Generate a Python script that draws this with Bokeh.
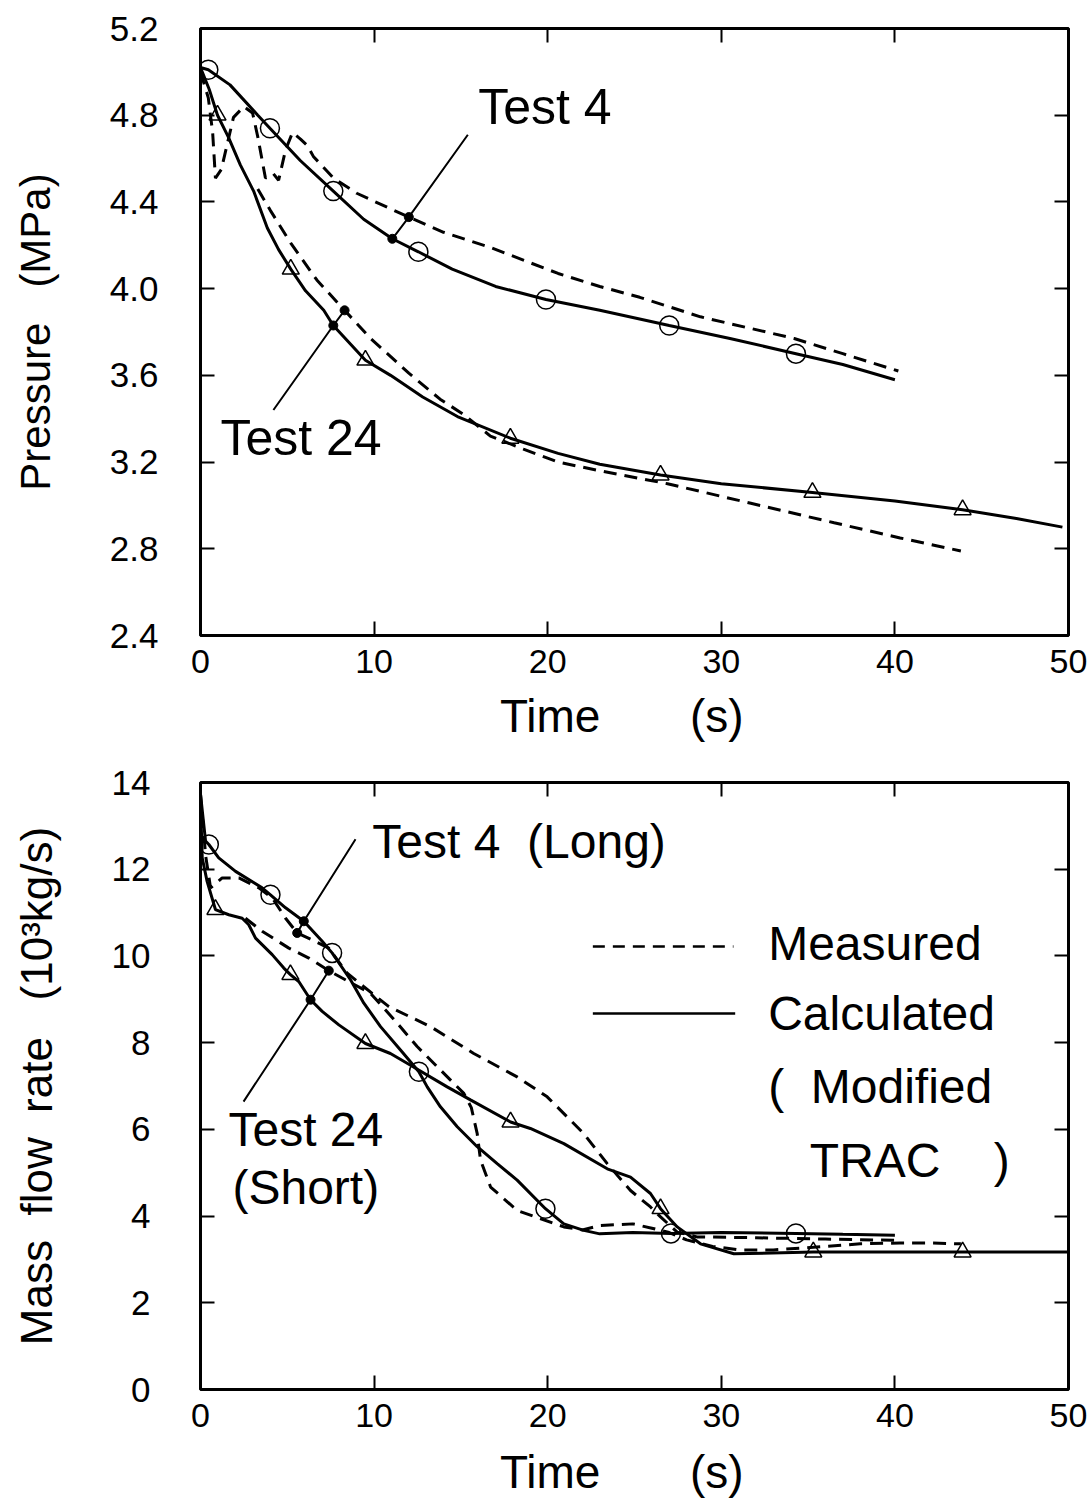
from bokeh.plotting import figure
from bokeh.models import Range1d, FixedTicker, LinearAxis
from bokeh.layouts import column
from bokeh.embed import file_html
from bokeh.resources import INLINE
from bokeh.core.properties import value

# ---------------- data: pressure (top) ----------------
X_TICKS = [0, 10, 20, 30, 40, 50]
P_TICKS = [2.4, 2.8, 3.2, 3.6, 4.0, 4.4, 4.8, 5.2]
P_TICK_LABELS = ["2.4", "2.8", "3.2", "3.6", "4.0", "4.4", "4.8", "5.2"]
M_TICKS = [0, 2, 4, 6, 8, 10, 12, 14]
M_TICK_LABELS = ["0", "2", "4", "6", "8", "10", "12", "14"]

# Test 4 calculated pressure (solid, circles)
P4C_T = [0, 0.45, 1.7, 3.3, 4.0, 5.76, 7.65, 9.4, 11.05, 12.55, 14.5, 17.0, 19.9, 23.0, 27.0, 30.5, 34.3, 37.0, 40.0]
P4C_P = [5.02, 5.01, 4.94, 4.80, 4.74, 4.59, 4.45, 4.32, 4.23, 4.17, 4.09, 4.01, 3.95, 3.90, 3.83, 3.77, 3.70, 3.65, 3.58]
P4C_MK_T = [0.45, 4.0, 7.65, 12.55, 19.9, 27.0, 34.3]
P4C_MK_P = [5.01, 4.74, 4.45, 4.17, 3.95, 3.83, 3.70]

# Test 4 measured pressure (dashed)
P4M_T = [0, 0.45, 0.7, 0.86, 1.2, 1.55, 1.9, 2.5, 3.0, 3.3, 3.74, 4.2, 4.5, 4.9, 5.3, 5.76, 6.16, 6.5, 7.66, 9.0,
         10.9, 12.0, 14.0, 16.7, 20.6, 23.0, 25.3, 28.8, 34.2, 37.0, 40.2]
P4M_P = [5.0, 4.88, 4.72, 4.51, 4.55, 4.67, 4.79, 4.84, 4.81, 4.70, 4.51, 4.53, 4.50, 4.64, 4.72, 4.69, 4.66, 4.61, 4.51, 4.44,
         4.37, 4.33, 4.26, 4.19, 4.07, 4.01, 3.96, 3.87, 3.77, 3.70, 3.62]

# Test 24 calculated pressure (solid, triangles)
P24C_T = [0, 0.5, 0.98, 1.6, 2.3, 3.06, 3.85, 4.5, 5.2, 6.05, 7.1, 7.65, 9.5, 10.95, 12.8, 14.8, 17.85, 20.6, 23.0, 26.5,
          30.0, 35.25, 40.0, 43.9, 47.0, 49.65]
P24C_P = [5.02, 4.92, 4.80, 4.70, 4.57, 4.45, 4.28, 4.18, 4.09, 3.99, 3.90, 3.83, 3.67, 3.60, 3.50, 3.41, 3.31, 3.24, 3.19, 3.14,
          3.10, 3.06, 3.02, 2.98, 2.94, 2.90]
P24C_MK_T = [0.98, 5.2, 9.5, 17.85, 26.5, 35.25, 43.9]
P24C_MK_P = [4.80, 4.09, 3.67, 3.31, 3.14, 3.06, 2.98]

# Test 24 measured pressure (dashed)
P24M_T = [3.3, 4.03, 5.2, 6.7, 8.3, 9.8, 12.0, 13.8, 15.15, 16.7, 18.6, 20.6, 23.0, 26.9, 31.7, 36.5, 40.3, 43.8]
P24M_P = [4.46, 4.36, 4.21, 4.04, 3.90, 3.77, 3.61, 3.49, 3.42, 3.32, 3.26, 3.20, 3.16, 3.10, 3.01, 2.92, 2.85, 2.79]

# ---------------- data: mass flow rate (bottom) ----------------
M4C_T = [0, 0.29, 0.48, 1.05, 2.02, 3.55, 4.03, 4.9, 5.95, 7.01, 7.58, 8.64, 9.41, 10.37, 11.52, 12.58, 13.06, 13.82,
         14.79, 15.94, 17.09, 18.24, 19.87, 20.93, 22.08, 23.0, 24.9, 27.1, 30.0, 34.3, 37.0, 40.0]
M4C_M = [13.73, 12.65, 12.57, 12.26, 11.95, 11.57, 11.41, 11.11, 10.80, 10.34, 10.07, 9.45, 8.91, 8.37, 7.83, 7.33, 6.98, 6.52,
         6.06, 5.60, 5.21, 4.83, 4.17, 3.82, 3.67, 3.59, 3.62, 3.60, 3.62, 3.60, 3.58, 3.56]
M4C_MK_T = [0.48, 4.03, 7.58, 12.58, 19.87, 27.1, 34.3]
M4C_MK_M = [12.57, 11.41, 10.07, 7.33, 4.17, 3.60, 3.60]

M4M_T = [0, 0.3, 0.58, 1.25, 2.21, 3.36, 4.13, 4.9, 5.57, 6.43, 7.39, 8.45, 9.41, 10.85, 13.25, 15.74, 18.24, 19.97,
         22.08, 23.43, 24.77, 25.92, 26.5, 27.46, 28.6, 32.0, 36.0, 40.0]
M4M_M = [13.73, 12.3, 11.57, 11.80, 11.80, 11.57, 11.34, 10.87, 10.53, 10.37, 10.18, 9.60, 9.29, 8.83, 8.37, 7.75, 7.21, 6.75,
         5.90, 5.21, 4.59, 4.21, 3.98, 3.63, 3.52, 3.50, 3.47, 3.44]

M24C_T = [0, 0.1, 0.38, 0.86, 1.63, 2.4, 2.78, 3.17, 4.13, 4.8, 5.18, 5.66, 6.34, 7.01, 7.97, 9.5, 10.94, 12.1, 14.21,
          15.55, 17.86, 19.0, 20.93, 23.43, 24.77, 25.92, 26.5, 27.46, 28.8, 30.72, 35.3, 43.9, 50.0]
M24C_M = [13.57, 12.26, 11.72, 11.07, 10.95, 10.87, 10.72, 10.41, 10.03, 9.72, 9.57, 9.41, 8.99, 8.72, 8.41, 7.98, 7.75, 7.48, 6.98,
          6.68, 6.17, 6.02, 5.67, 5.09, 4.90, 4.52, 4.17, 3.75, 3.36, 3.13, 3.17, 3.17, 3.17]
M24C_MK_T = [0.86, 5.18, 9.5, 17.86, 26.5, 35.3, 43.9]
M24C_MK_M = [11.07, 9.57, 7.98, 6.17, 4.17, 3.17, 3.17]

M24M_T = [2.59, 3.55, 5.09, 6.24, 7.39, 8.16, 9.79, 11.33, 12.48, 13.82, 15.17, 15.6, 15.94, 16.13, 16.71, 18.24, 20.93,
          22.0, 23.0, 24.9, 26.0, 27.0, 28.0, 29.5, 31.0, 33.0, 35.3, 38.0, 40.3, 42.0, 43.8]
M24M_M = [10.87, 10.57, 10.18, 9.95, 9.66, 9.49, 9.14, 8.45, 7.91, 7.37, 6.83, 6.5, 5.90, 5.29, 4.67, 4.13, 3.75,
          3.68, 3.78, 3.82, 3.72, 3.62, 3.45, 3.30, 3.22, 3.22, 3.28, 3.36, 3.38, 3.38, 3.36]

FONT = "Liberation Sans"
NB = "\u00a0"
DASH = "13 8"


def make_fig(height, top, bottom, yr, yticks, ylabels, ylabel, xlabel_standoff, ylabel_standoff,
             ytick_standoff, ylabel_size):
    p = figure(width=1089, height=height, x_range=Range1d(0, 50), y_range=Range1d(*yr),
               output_backend="svg", toolbar_location=None,
               min_border_left=200, min_border_right=21, min_border_top=top, min_border_bottom=bottom)
    p.grid.visible = False
    p.outline_line_color = "black"
    p.outline_line_width = 3
    p.background_fill_color = "white"
    p.border_fill_color = "white"

    xa = p.xaxis[0]
    xa.ticker = FixedTicker(ticks=X_TICKS)
    xa.major_label_text_font = FONT
    xa.major_label_text_font_size = "34px"
    xa.major_label_standoff = 14
    xa.axis_label = "Time" + NB * 7 + "(s)" + NB * 2
    xa.axis_label_text_font = FONT
    xa.axis_label_text_font_size = "46px"
    xa.axis_label_text_font_style = "normal"
    xa.axis_label_standoff = xlabel_standoff

    ya = p.yaxis[0]
    ya.ticker = FixedTicker(ticks=yticks)
    ya.major_label_overrides = {t: l for t, l in zip(yticks, ylabels)}
    ya.major_label_text_font = FONT
    ya.major_label_text_font_size = "35px"
    ya.major_label_standoff = ytick_standoff
    ya.axis_label = ylabel
    ya.axis_label_text_font = FONT
    ya.axis_label_text_font_size = ylabel_size
    ya.axis_label_text_font_style = "normal"
    ya.axis_label_standoff = ylabel_standoff

    top_ax = LinearAxis(ticker=FixedTicker(ticks=X_TICKS), major_label_text_font_size="0px",
                        major_label_text_alpha=0, major_label_standoff=0)
    right_ax = LinearAxis(ticker=FixedTicker(ticks=yticks), major_label_text_font_size="0px",
                          major_label_text_alpha=0, major_label_standoff=0)
    p.add_layout(top_ax, "above")
    p.add_layout(right_ax, "right")

    for ax in [xa, ya, top_ax, right_ax]:
        ax.major_tick_in = 14
        ax.major_tick_out = 0
        ax.major_tick_line_width = 2
        ax.major_tick_line_color = "black"
        ax.minor_tick_line_color = None
        ax.axis_line_color = None
        ax.major_label_text_color = "black"
        ax.axis_label_text_color = "black"
    return p


def txt(p, x, y, s, size="48px", align="left"):
    p.text(x=[x], y=[y], text=[s], text_font=value(FONT), text_font_size=size,
           text_baseline="middle", text_align=align, text_color="black")


# ---------------- top figure ----------------
p1 = make_fig(760, 28, 125, (2.4, 5.2), P_TICKS, P_TICK_LABELS,
              "Pressure" + NB * 3 + "(MPa)", 14, 48, 42, "42px")

p1.line(P4M_T, P4M_P, line_color="black", line_width=3, line_dash=DASH)
p1.line(P24M_T, P24M_P, line_color="black", line_width=3, line_dash=DASH)
p1.line(P4C_T, P4C_P, line_color="black", line_width=3)
p1.line(P24C_T, P24C_P, line_color="black", line_width=3)
p1.scatter(P4C_MK_T, P4C_MK_P, marker="circle", size=19, fill_color=None, line_color="black", line_width=1.5)
p1.scatter(P24C_MK_T, P24C_MK_P, marker="triangle", size=17, fill_color=None, line_color="black", line_width=1.5)

# leader lines and dots
p1.line([P4C_T[8], P4M_T[21], 15.4], [P4C_P[8], P4M_P[21], 4.71], line_color="black", line_width=2)
p1.line([4.2, P24C_T[11], 8.3], [3.44, P24C_P[11], 3.90], line_color="black", line_width=2)
p1.scatter([P4C_T[8], P4M_T[21], P24C_T[11], 8.3], [P4C_P[8], P4M_P[21], P24C_P[11], 3.90],
           marker="circle", size=9, fill_color="black", line_color="black")
txt(p1, 16.0, 4.84, "Test 4", "50px")
txt(p1, 1.15, 3.31, "Test 24", "50px")

# ---------------- bottom figure ----------------
p2 = make_fig(741, 22, 112, (0, 14), M_TICKS, M_TICK_LABELS,
              "Mass" + NB * 2 + "flow" + NB * 2 + "rate" + NB * 3 + "(10³kg/s)", 16, 48, 50, "44px")

p2.line(M4M_T, M4M_M, line_color="black", line_width=3, line_dash=DASH)
p2.line(M24M_T, M24M_M, line_color="black", line_width=3, line_dash=DASH)
p2.line(M4C_T, M4C_M, line_color="black", line_width=3)
p2.line(M24C_T, M24C_M, line_color="black", line_width=3)
p2.scatter(M4C_MK_T, M4C_MK_M, marker="circle", size=19, fill_color=None, line_color="black", line_width=1.5)
p2.scatter(M24C_MK_T, M24C_MK_M, marker="triangle", size=17, fill_color=None, line_color="black", line_width=1.5)

p2.line([8.93, M4C_T[8], M4M_T[8]], [12.69, M4C_M[8], M4M_M[8]], line_color="black", line_width=2)
p2.line([2.48, M24C_T[12], M24M_T[4]], [6.64, M24C_M[12], M24M_M[4]], line_color="black", line_width=2)
p2.scatter([M4C_T[8], M4M_T[8], M24C_T[12], M24M_T[4]], [M4C_M[8], M4M_M[8], M24C_M[12], M24M_M[4]],
           marker="circle", size=9, fill_color="black", line_color="black")
txt(p2, 9.9, 12.65, "Test 4" + NB * 2 + "(Long)")
txt(p2, 1.61, 5.99, "Test 24")
txt(p2, 1.84, 4.67, "(Short)")

# legend
p2.line([22.6, 30.7], [10.22, 10.22], line_color="black", line_width=2.5, line_dash="12 8")
p2.line([22.6, 30.8], [8.67, 8.67], line_color="black", line_width=2.5)
txt(p2, 32.7, 10.29, "Measured")
txt(p2, 32.7, 8.67, "Calculated")
txt(p2, 32.7, 6.98, "(" + NB * 2 + "Modified")
txt(p2, 35.1, 5.29, "TRAC" + NB * 4 + ")")

layout = column(p1, p2, spacing=0)
open("out.html", "w").write(file_html(layout, INLINE))
